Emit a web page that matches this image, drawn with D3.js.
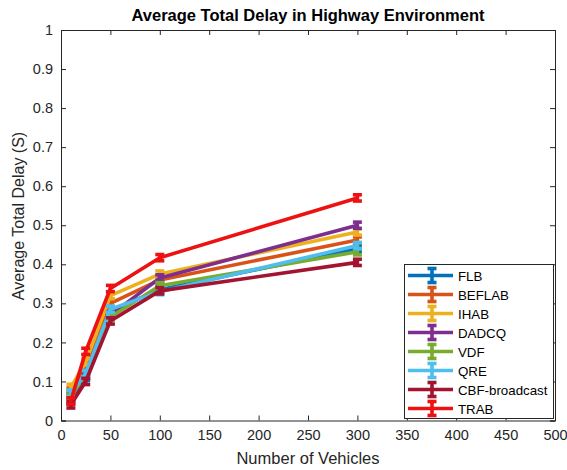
<!DOCTYPE html>
<html>
<head>
<meta charset="utf-8">
<script src="https://cdn.jsdelivr.net/npm/d3@7"></script>
<style>
  body { margin: 0; background: #fff; }
  svg { display: block; font-family: "Liberation Sans", Arial, sans-serif; }
</style>
</head>
<body>
<svg id="chart" width="567" height="470"></svg>
<script>
// Number of vehicles (x values)
const vehicles = [10, 25, 50, 100, 300];

// Average total delay per scheme (seconds)
const FLB    = [0.065, 0.110, 0.280, 0.335, 0.440];
const BEFLAB = [0.075, 0.140, 0.300, 0.360, 0.462];
const IHAB   = [0.085, 0.150, 0.320, 0.375, 0.483];
const DADCQ  = [0.050, 0.115, 0.270, 0.365, 0.500];
const VDF    = [0.060, 0.120, 0.265, 0.345, 0.432];
const QRE    = [0.070, 0.120, 0.285, 0.330, 0.448];
const CBF    = [0.040, 0.100, 0.255, 0.332, 0.405];
const TRAB   = [0.050, 0.177, 0.338, 0.417, 0.570];

// Half-width of error bars
const errFLB    = [0.008, 0.008, 0.008, 0.008, 0.008];
const errBEFLAB = [0.008, 0.008, 0.008, 0.008, 0.008];
const errIHAB   = [0.008, 0.008, 0.008, 0.008, 0.008];
const errDADCQ  = [0.008, 0.008, 0.008, 0.008, 0.008];
const errVDF    = [0.008, 0.008, 0.008, 0.008, 0.008];
const errQRE    = [0.008, 0.008, 0.008, 0.008, 0.008];
const errCBF    = [0.008, 0.008, 0.008, 0.008, 0.008];
const errTRAB   = [0.008, 0.008, 0.008, 0.008, 0.008];

const seriesNames = ["FLB", "BEFLAB", "IHAB", "DADCQ", "VDF", "QRE", "CBF-broadcast", "TRAB"];
const seriesValues = [FLB, BEFLAB, IHAB, DADCQ, VDF, QRE, CBF, TRAB];
const seriesErrors = [errFLB, errBEFLAB, errIHAB, errDADCQ, errVDF, errQRE, errCBF, errTRAB];
const seriesColors = ["#0072BD", "#D95319", "#EDB120", "#7E2F8E", "#77AC30", "#4DBEEE", "#A2142F", "#EE1111"];

const xTicks = [0, 50, 100, 150, 200, 250, 300, 350, 400, 450, 500];
const yTicks = [0, 0.1, 0.2, 0.3, 0.4, 0.5, 0.6, 0.7, 0.8, 0.9, 1];

const svg = d3.select("#chart");
const plotL = 61, plotR = 555, plotT = 30, plotB = 420.5;

const x = d3.scaleLinear().domain([0, 500]).range([plotL, plotR]);
const y = d3.scaleLinear().domain([0, 1]).range([plotB, plotT]);

const axisColor = "#262626";
const strokeW = 3.6;

// Axes with inward ticks on all four sides
const gx = svg.append("g").attr("transform", `translate(0,${plotB})`)
  .call(d3.axisBottom(x).tickValues(xTicks).tickSize(-5).tickPadding(9).tickFormat(d3.format("d")));
const gxTop = svg.append("g").attr("transform", `translate(0,${plotT})`)
  .call(d3.axisTop(x).tickValues(xTicks).tickSize(-5).tickFormat(""));
const gy = svg.append("g").attr("transform", `translate(${plotL},0)`)
  .call(d3.axisLeft(y).tickValues(yTicks).tickSize(-5).tickPadding(8).tickFormat(d => d === 0 || d === 1 ? d3.format("d")(d) : d3.format(".1f")(d)));
const gyRight = svg.append("g").attr("transform", `translate(${plotR},0)`)
  .call(d3.axisRight(y).tickValues(yTicks).tickSize(-5).tickFormat(""));

[gx, gxTop, gy, gyRight].forEach(g => {
  g.select(".domain").attr("stroke", axisColor).attr("stroke-width", 1);
  g.selectAll(".tick line").attr("stroke", axisColor);
  g.selectAll(".tick text").attr("fill", axisColor).style("font-size", "14.5px")
    .style("font-family", "'Liberation Sans', Arial, sans-serif");
});

// Series lines with error bars
const line = d3.line().x((d, i) => x(vehicles[i])).y(d => y(d));
const capHalf = 4.5;

seriesValues.forEach((vals, s) => {
  const col = seriesColors[s];
  const g = svg.append("g");
  g.append("path").datum(vals).attr("d", line)
    .attr("fill", "none").attr("stroke", col).attr("stroke-width", strokeW)
    .attr("stroke-linejoin", "round");
  vals.forEach((v, i) => {
    const e = seriesErrors[s][i];
    const cx = x(vehicles[i]);
    g.append("line").attr("x1", cx).attr("x2", cx)
      .attr("y1", y(v - e)).attr("y2", y(v + e))
      .attr("stroke", col).attr("stroke-width", strokeW);
    [v - e, v + e].forEach(t => {
      g.append("line").attr("x1", cx - capHalf).attr("x2", cx + capHalf)
        .attr("y1", y(t)).attr("y2", y(t))
        .attr("stroke", col).attr("stroke-width", strokeW);
    });
  });
});

// Title and axis labels
svg.append("text").attr("x", (plotL + plotR) / 2).attr("y", 21)
  .attr("text-anchor", "middle").style("font-size", "16.5px").style("font-weight", "bold")
  .attr("fill", "#000").text("Average Total Delay in Highway Environment");

svg.append("text").attr("x", (plotL + plotR) / 2).attr("y", 464)
  .attr("text-anchor", "middle").style("font-size", "16.5px").attr("fill", axisColor)
  .text("Number of Vehicles");

svg.append("text").attr("transform", `translate(24,216) rotate(-90)`)
  .attr("text-anchor", "middle").style("font-size", "16px").attr("fill", axisColor)
  .text("Average Total Delay (S)");

// Legend
const lgX = 404.5, lgY = 264.5, lgW = 149, lgH = 154, rowH = 19;
const lg = svg.append("g");
lg.append("rect").attr("x", lgX).attr("y", lgY).attr("width", lgW).attr("height", lgH)
  .attr("fill", "#fff").attr("stroke", "#262626").attr("stroke-width", 1);
seriesNames.forEach((name, i) => {
  const cy = lgY + 11 + i * rowH;
  const col = seriesColors[i];
  lg.append("line").attr("x1", lgX + 3.5).attr("x2", lgX + 48.5).attr("y1", cy).attr("y2", cy)
    .attr("stroke", col).attr("stroke-width", strokeW);
  const mx = lgX + 27.5;
  lg.append("line").attr("x1", mx).attr("x2", mx).attr("y1", cy - 7).attr("y2", cy + 7)
    .attr("stroke", col).attr("stroke-width", strokeW);
  [cy - 7, cy + 7].forEach(t => {
    lg.append("line").attr("x1", mx - 4.5).attr("x2", mx + 4.5).attr("y1", t).attr("y2", t)
      .attr("stroke", col).attr("stroke-width", strokeW);
  });
  lg.append("text").attr("x", lgX + 53.5).attr("y", cy + 5)
    .style("font-size", "13.3px").attr("fill", "#000").text(name);
});
</script>
</body>
</html>
